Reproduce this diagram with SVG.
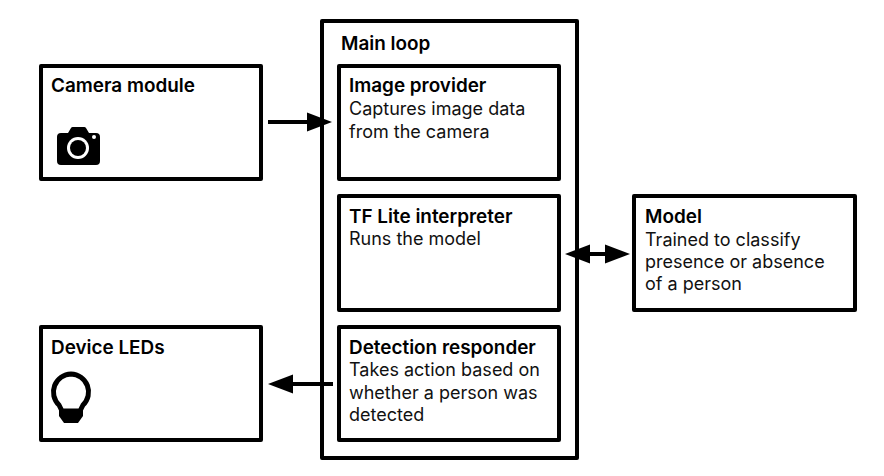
<svg xmlns="http://www.w3.org/2000/svg" width="884" height="476" viewBox="0 0 884 476">
<defs>
<style>
.box{fill:#fff;stroke:#000;stroke-width:4;stroke-linejoin:round}
.t{font-family:"Inter","Open Sans","Liberation Sans",sans-serif;font-size:18px;fill:#111}
.b{font-size:18.9px;font-weight:600;fill:#000}
.c{stroke:#000;stroke-width:4;fill:none}
</style>
<marker id="a" markerUnits="userSpaceOnUse" markerWidth="26" markerHeight="20" refX="20" refY="10" orient="auto-start-reverse"><path d="M0 0.5L25 10L0 19.5Z" fill="#000"/></marker>
</defs>
<rect width="884" height="476" fill="#fff"/>
<g id="main-loop"><rect class="box" x="322" y="21" width="255" height="437"/><text class="t b" x="341" y="50">Main loop</text></g>
<g id="camera-module"><rect class="box" x="41" y="66" width="220" height="113"/><text class="t b" x="51" y="92">Camera module</text>
<path d="M61 133h7l3-5a2 2 0 0 1 2-1h11a2 2 0 0 1 2 1l3 5h7a4 4 0 0 1 4 4v24a4 4 0 0 1-4 4H61a4 4 0 0 1-4-4V137a4 4 0 0 1 4-4Z" fill="#000"/><circle cx="78" cy="148" r="11" fill="#fff"/><circle cx="78" cy="148" r="8" fill="#000"/><circle cx="94" cy="137" r="2" fill="#fff"/></g>
<g id="image-provider"><rect class="box" x="339" y="66" width="220" height="113"/><text class="t b" x="349" y="92">Image provider</text><text class="t" x="349" y="115">Captures image data</text><text class="t" x="349" y="138">from the camera</text></g>
<g id="tf-lite"><rect class="box" x="339" y="196" width="220" height="114"/><text class="t b" x="349" y="223">TF Lite interpreter</text><text class="t" x="349" y="245">Runs the model</text></g>
<g id="detection-responder"><rect class="box" x="339" y="327" width="220" height="113"/><text class="t b" x="349" y="354">Detection responder</text><text class="t" x="349" y="376">Takes action based on</text><text class="t" x="349" y="399">whether a person was</text><text class="t" x="349" y="421">detected</text></g>
<g id="model"><rect class="box" x="634" y="196" width="221" height="114"/><text class="t b" x="645" y="223">Model</text><text class="t" x="645" y="246">Trained to classify</text><text class="t" x="645" y="268">presence or absence</text><text class="t" x="645" y="290">of a person</text></g>
<g id="device-leds"><rect class="box" x="41" y="327" width="220" height="113"/><text class="t b" x="51" y="354">Device LEDs</text>
<path d="M71 374A18 18 0 0 1 83 405L80 411H62L59 405A18 18 0 0 1 71 374Z" fill="none" stroke="#000" stroke-width="5" stroke-linejoin="round"/><path d="M59 409H83V416L78 423H64L59 416Z" fill="#000"/></g>
<g id="connectors">
<path class="c" d="M268 122H327" marker-end="url(#a)"/>
<path class="c" d="M570 254H625" marker-start="url(#a)" marker-end="url(#a)"/>
<path class="c" d="M333 384H273" marker-end="url(#a)"/>
</g>
</svg>
